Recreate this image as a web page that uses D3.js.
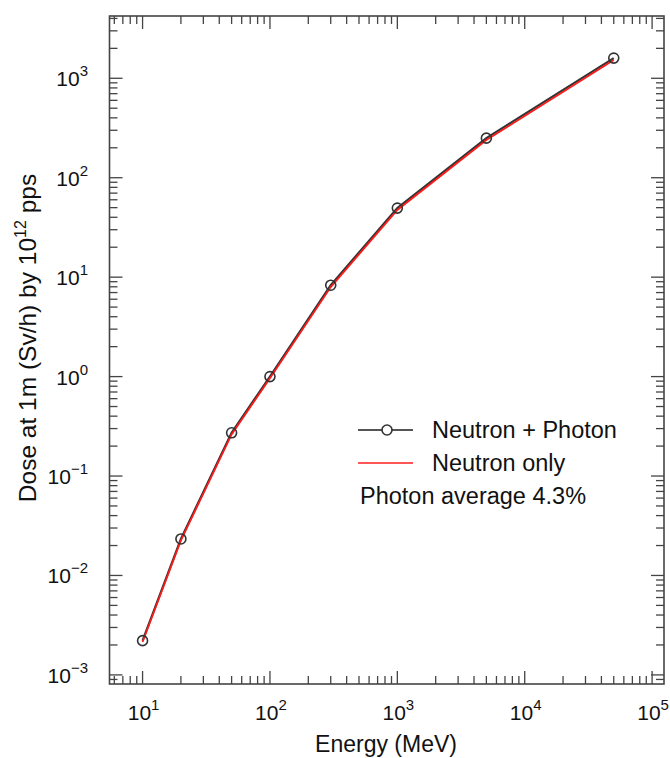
<!DOCTYPE html>
<html>
<head>
<meta charset="utf-8">
<script src="https://cdn.jsdelivr.net/npm/d3@7"></script>
<style>
  html, body { margin: 0; padding: 0; background: #fff; }
  svg { display: block; font-family: "Liberation Sans", Arial, Helvetica, sans-serif; }
</style>
</head>
<body>
<svg id="chart" width="670" height="758"></svg>
<script>
// ---- data ----
const energies = [10, 20, 50, 100, 300, 1000, 5000, 50000];          // MeV
const doseTotal = [0.00221, 0.0233, 0.272, 1.0, 8.3, 49.5, 250, 1596]; // Neutron + Photon
const doseNeutron = [0.00214, 0.0225, 0.262, 0.962, 7.95, 47.4, 239, 1525]; // Neutron only
const xTickExps = [1, 2, 3, 4, 5];
const yTickExps = [-3, -2, -1, 0, 1, 2, 3];
const legendLabels = ["Neutron + Photon", "Neutron only"];
const noteText = "Photon average 4.3%";

// ---- layout ----
const W = 670, H = 758;
const m = { left: 109.5, right: 6, top: 16, bottom: 74 };
const x0 = m.left, x1 = W - m.right, y0 = m.top, y1 = H - m.bottom;

const svg = d3.select("#chart");
const x = d3.scaleLog().domain([5.5, 1.24e5]).range([x0, x1]);
const y = d3.scaleLog().domain([8.1e-4, 4230]).range([y1, y0]);

const axisColor = "#444";
const majorLen = 13, minorLen = 8;

function logTicks(scale) {
  const [a, b] = scale.domain();
  const out = [];
  for (let e = Math.floor(Math.log10(a)); e <= Math.ceil(Math.log10(b)); e++) {
    for (let k = 1; k <= 9; k++) {
      const v = k * Math.pow(10, e);
      if (v >= a && v <= b) out.push({ v, major: k === 1 });
    }
  }
  return out;
}

const g = svg.append("g");

const xt = logTicks(x);
g.selectAll(".xtb").data(xt).join("line")
  .attr("x1", d => x(d.v)).attr("x2", d => x(d.v))
  .attr("y1", y1).attr("y2", d => y1 - (d.major ? majorLen : minorLen))
  .attr("stroke", axisColor).attr("stroke-width", 1.3);
g.selectAll(".xtt").data(xt).join("line")
  .attr("x1", d => x(d.v)).attr("x2", d => x(d.v))
  .attr("y1", y0).attr("y2", d => y0 + (d.major ? majorLen : minorLen))
  .attr("stroke", axisColor).attr("stroke-width", 1.3);

const yt = logTicks(y);
g.selectAll(".ytl").data(yt).join("line")
  .attr("y1", d => y(d.v)).attr("y2", d => y(d.v))
  .attr("x1", x0).attr("x2", d => x0 + (d.major ? majorLen : minorLen))
  .attr("stroke", axisColor).attr("stroke-width", 1.3);
g.selectAll(".ytr").data(yt).join("line")
  .attr("y1", d => y(d.v)).attr("y2", d => y(d.v))
  .attr("x1", x1).attr("x2", d => x1 - (d.major ? majorLen : minorLen))
  .attr("stroke", axisColor).attr("stroke-width", 1.3);

g.append("rect").attr("x", x0).attr("y", y0)
  .attr("width", x1 - x0).attr("height", y1 - y0)
  .attr("fill", "none").attr("stroke", axisColor).attr("stroke-width", 1.6);

function supLabel(sel, e) {
  sel.append("tspan").text("10");
  sel.append("tspan").attr("dy", -10).attr("font-size", 15)
    .text(e < 0 ? "\u2212" + Math.abs(e) : String(e));
}
xTickExps.forEach(e => {
  const t = svg.append("text")
    .attr("x", x(Math.pow(10, e)) + 1).attr("y", y1 + 36)
    .attr("text-anchor", "middle").attr("font-size", 21).attr("fill", "#111");
  supLabel(t, e);
});
yTickExps.forEach(e => {
  const t = svg.append("text")
    .attr("x", 88).attr("y", y(Math.pow(10, e)) + 8)
    .attr("text-anchor", "end").attr("font-size", 21).attr("fill", "#111");
  supLabel(t, e);
});

svg.append("text").attr("x", 386).attr("y", 752)
  .attr("text-anchor", "middle").attr("font-size", 23).attr("fill", "#111")
  .text("Energy (MeV)");
const yl = svg.append("text")
  .attr("transform", `translate(36, 338) rotate(-90)`)
  .attr("text-anchor", "middle").attr("font-size", 24.5).attr("fill", "#111");
yl.append("tspan").text("Dose at 1m (Sv/h) by 10");
yl.append("tspan").attr("dy", -10).attr("font-size", 16).text("12");
yl.append("tspan").attr("dy", 10).text(" pps");

const line = d3.line().x(d => x(d[0])).y(d => y(d[1]));
const totalPts = energies.map((e, i) => [e, doseTotal[i]]);
const neutronPts = energies.map((e, i) => [e, doseNeutron[i]]);

svg.append("path").datum(totalPts).attr("d", line)
  .attr("fill", "none").attr("stroke", "#333").attr("stroke-width", 2.2);
svg.append("path").datum(neutronPts).attr("d", line)
  .attr("fill", "none").attr("stroke", "#ff1a1a").attr("stroke-width", 1.8);
svg.selectAll(".pt").data(totalPts).join("circle")
  .attr("cx", d => x(d[0])).attr("cy", d => y(d[1])).attr("r", 5)
  .attr("fill", "none").attr("stroke", "#333").attr("stroke-width", 1.6);

const lg = svg.append("g");
lg.append("line").attr("x1", 358).attr("x2", 413).attr("y1", 430).attr("y2", 430)
  .attr("stroke", "#555").attr("stroke-width", 2);
lg.append("circle").attr("cx", 387).attr("cy", 430).attr("r", 5)
  .attr("fill", "#fff").attr("stroke", "#333").attr("stroke-width", 1.6);
lg.append("line").attr("x1", 358).attr("x2", 413).attr("y1", 463).attr("y2", 463)
  .attr("stroke", "#ff5555").attr("stroke-width", 2);
lg.append("text").attr("x", 432).attr("y", 438).attr("font-size", 23.5).attr("fill", "#111")
  .text(legendLabels[0]);
lg.append("text").attr("x", 432).attr("y", 471).attr("font-size", 23.5).attr("fill", "#111")
  .text(legendLabels[1]);
lg.append("text").attr("x", 360).attr("y", 504).attr("font-size", 23.5).attr("fill", "#111")
  .text(noteText);
</script>
</body>
</html>
